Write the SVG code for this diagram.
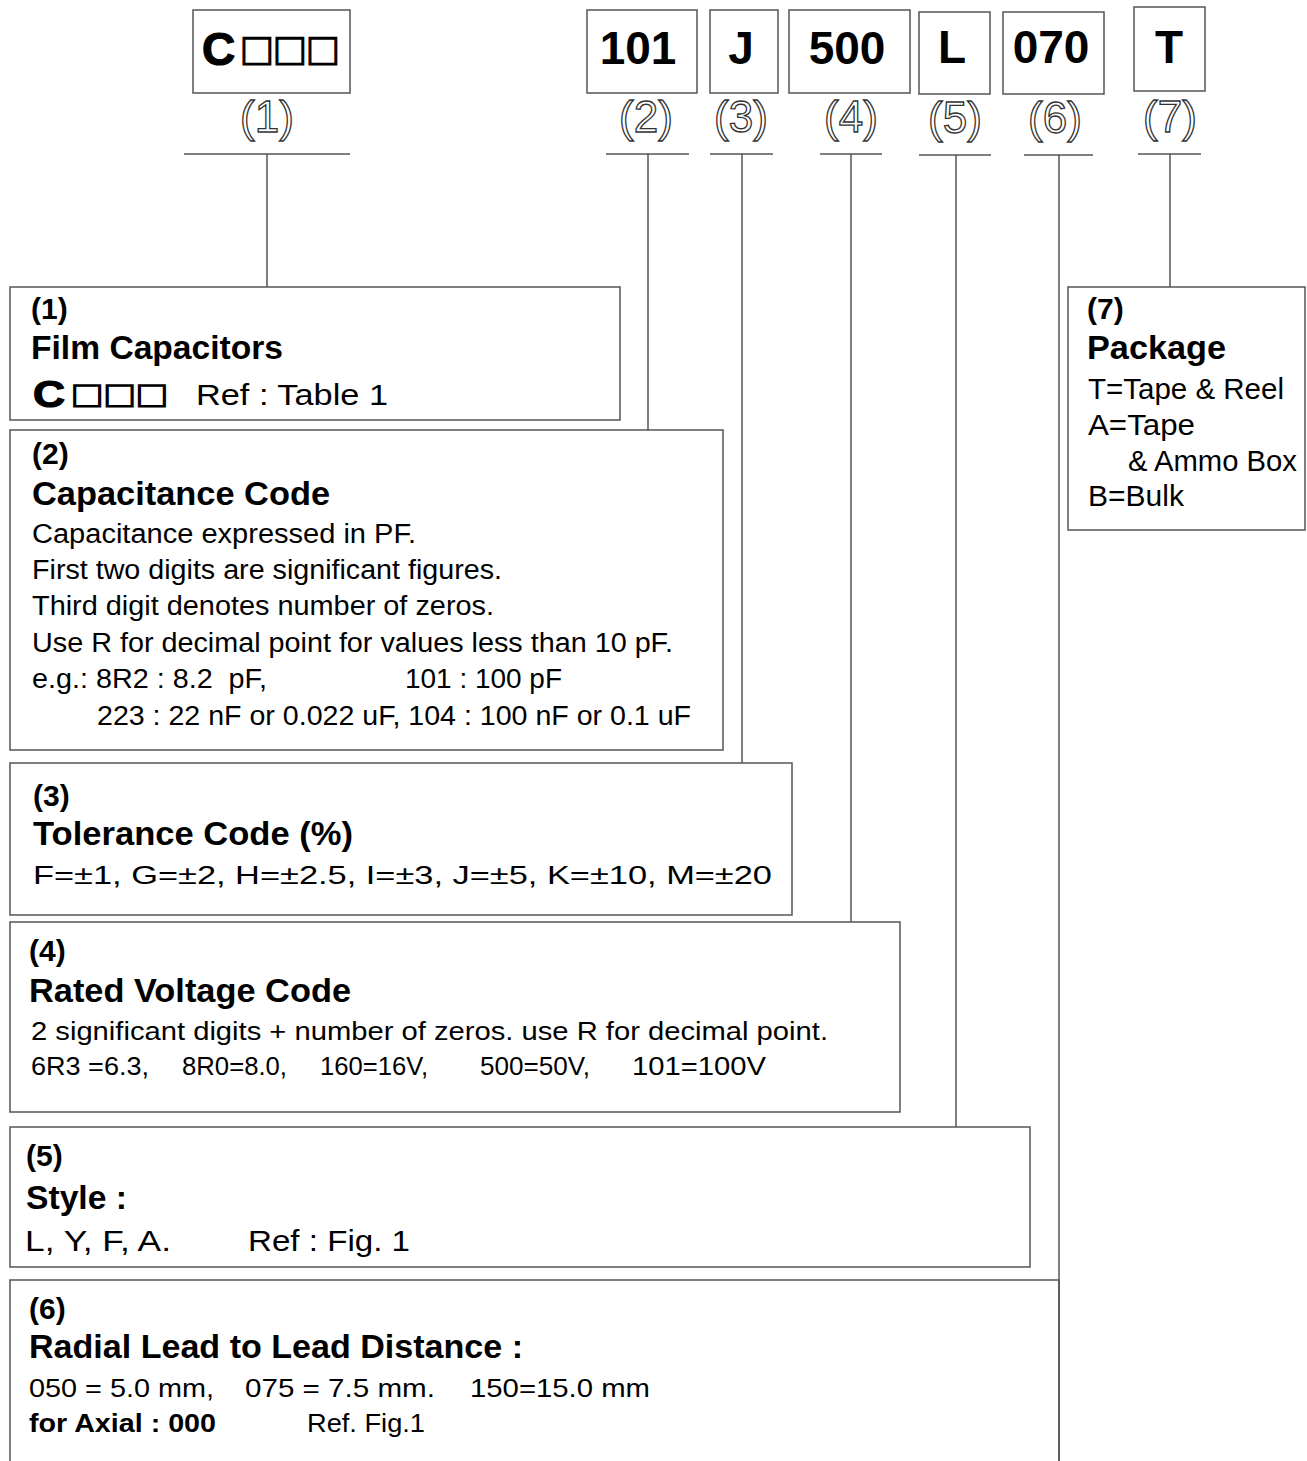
<svg xmlns="http://www.w3.org/2000/svg" width="1307" height="1461" viewBox="0 0 1307 1461">
<style>
.box{fill:none;stroke:#555;stroke-width:1.5}
.conn{fill:none;stroke:#555;stroke-width:1.5}
.hdr{font-family:"Liberation Sans",Arial,sans-serif;font-weight:bold;font-size:46px;fill:#000;text-anchor:middle}
.sq{font-family:"Liberation Sans",Arial,sans-serif;font-weight:bold;fill:#000;stroke:#000;stroke-width:1.2}
.num{font-family:"Liberation Sans",Arial,sans-serif;font-size:44px;fill:#fff;stroke:#333;stroke-width:1.3;text-anchor:middle}
.h{font-family:"Liberation Sans",Arial,sans-serif;font-weight:bold;font-size:30px;fill:#000}
.t{font-family:"Liberation Sans",Arial,sans-serif;font-weight:bold;font-size:33px;fill:#000}
.b{font-family:"Liberation Sans",Arial,sans-serif;font-size:27px;fill:#000}
.b3{font-family:"Liberation Sans",Arial,sans-serif;font-size:26px;fill:#000}
.b4{font-family:"Liberation Sans",Arial,sans-serif;font-size:25px;fill:#000}
.bb{font-family:"Liberation Sans",Arial,sans-serif;font-weight:bold;font-size:25px;fill:#000}
.r{font-family:"Liberation Sans",Arial,sans-serif;font-size:29px;fill:#000}
</style>
<rect x="0" y="0" width="1307" height="1461" fill="#fff"/>

<g id="connectors">
  <path class="conn" d="M184,154 H350 M267,154 V287"/>
  <path class="conn" d="M606,154 H689 M648,154 V430"/>
  <path class="conn" d="M710,154 H773 M742,154 V763"/>
  <path class="conn" d="M820,154 H882 M851,154 V922"/>
  <path class="conn" d="M919,155 H991 M956,155 V1127"/>
  <path class="conn" d="M1024,155 H1093 M1059,155 V1461"/>
  <path class="conn" d="M1138,154 H1201 M1170,154 V287"/>
</g>

<g id="code-1">
  <rect class="box" x="193" y="10" width="157" height="83"/>
  <text class="sq" y="65" font-size="46"><tspan x="202">C</tspan><tspan x="243">□</tspan><tspan x="276">□</tspan><tspan x="309">□</tspan></text>
  <text class="num" x="267" y="132">(1)</text>
</g>
<g id="code-2">
  <rect class="box" x="587" y="10" width="110" height="83"/>
  <text class="hdr" x="638" y="64">101</text>
  <text class="num" x="646" y="132">(2)</text>
</g>
<g id="code-3">
  <rect class="box" x="710" y="10" width="68" height="83"/>
  <text class="hdr" x="741" y="64">J</text>
  <text class="num" x="741" y="132">(3)</text>
</g>
<g id="code-4">
  <rect class="box" x="789" y="10" width="121" height="83"/>
  <text class="hdr" x="847" y="64">500</text>
  <text class="num" x="851" y="132">(4)</text>
</g>
<g id="code-5">
  <rect class="box" x="919" y="12" width="71" height="82"/>
  <text class="hdr" x="952" y="63">L</text>
  <text class="num" x="955" y="133">(5)</text>
</g>
<g id="code-6">
  <rect class="box" x="1003" y="12" width="101" height="82"/>
  <text class="hdr" x="1051" y="63">070</text>
  <text class="num" x="1055" y="133">(6)</text>
</g>
<g id="code-7">
  <rect class="box" x="1134" y="7" width="71" height="84"/>
  <text class="hdr" x="1169" y="63">T</text>
  <text class="num" x="1170" y="132">(7)</text>
</g>

<g id="desc-1">
  <rect class="box" x="10" y="287" width="610" height="133"/>
  <text class="h" x="31" y="319">(1)</text>
  <text class="t" x="31" y="359" textLength="252" lengthAdjust="spacingAndGlyphs">Film Capacitors</text>
  <text class="sq" transform="matrix(1.2,0,0,1,33,407)" font-size="37" stroke-width="0.8"><tspan x="0">C</tspan><tspan x="34">□</tspan><tspan x="61">□</tspan><tspan x="88">□</tspan></text>
  <text class="r" x="196" y="405" font-size="30" textLength="192" lengthAdjust="spacingAndGlyphs">Ref : Table 1</text>
</g>

<g id="desc-2">
  <rect class="box" x="10" y="430" width="713" height="320"/>
  <text class="h" x="32" y="464">(2)</text>
  <text class="t" x="32" y="505" textLength="298" lengthAdjust="spacingAndGlyphs">Capacitance Code</text>
  <text class="b" x="32" y="543" textLength="384" lengthAdjust="spacingAndGlyphs">Capacitance expressed in PF.</text>
  <text class="b" x="32" y="579" textLength="470" lengthAdjust="spacingAndGlyphs">First two digits are significant figures.</text>
  <text class="b" x="32" y="615" textLength="462" lengthAdjust="spacingAndGlyphs">Third digit denotes number of zeros.</text>
  <text class="b" x="32" y="652" textLength="641" lengthAdjust="spacingAndGlyphs">Use R for decimal point for values less than 10 pF.</text>
  <text class="b" x="32" y="688" xml:space="preserve" textLength="235" lengthAdjust="spacingAndGlyphs">e.g.: 8R2 : 8.2  pF,</text>
  <text class="b" x="405" y="688" textLength="157" lengthAdjust="spacingAndGlyphs">101 : 100 pF</text>
  <text class="b" x="97" y="725" textLength="594" lengthAdjust="spacingAndGlyphs">223 : 22 nF or 0.022 uF, 104 : 100 nF or 0.1 uF</text>
</g>

<g id="desc-3">
  <rect class="box" x="10" y="763" width="782" height="152"/>
  <text class="h" x="33" y="806">(3)</text>
  <text class="t" x="33" y="845" textLength="320" lengthAdjust="spacingAndGlyphs">Tolerance Code (%)</text>
  <text class="b3" x="33" y="884" textLength="739" lengthAdjust="spacingAndGlyphs">F=±1, G=±2, H=±2.5, I=±3, J=±5, K=±10, M=±20</text>
</g>

<g id="desc-4">
  <rect class="box" x="10" y="922" width="890" height="190"/>
  <text class="h" x="29" y="961">(4)</text>
  <text class="t" x="29" y="1002" textLength="322" lengthAdjust="spacingAndGlyphs">Rated Voltage Code</text>
  <text class="b4" x="31" y="1040" textLength="797" lengthAdjust="spacingAndGlyphs">2 significant digits + number of zeros. use R for decimal point.</text>
  <text class="b4" x="31" y="1075" textLength="118" lengthAdjust="spacingAndGlyphs">6R3 =6.3,</text>
  <text class="b4" x="182" y="1075" textLength="105" lengthAdjust="spacingAndGlyphs">8R0=8.0,</text>
  <text class="b4" x="320" y="1075" textLength="108" lengthAdjust="spacingAndGlyphs">160=16V,</text>
  <text class="b4" x="480" y="1075" textLength="110" lengthAdjust="spacingAndGlyphs">500=50V,</text>
  <text class="b4" x="632" y="1075" textLength="134" lengthAdjust="spacingAndGlyphs">101=100V</text>
</g>

<g id="desc-5">
  <rect class="box" x="10" y="1127" width="1020" height="140"/>
  <text class="h" x="26" y="1166">(5)</text>
  <text class="t" x="26" y="1209" textLength="101" lengthAdjust="spacingAndGlyphs">Style :</text>
  <text class="r" x="25" y="1251" font-size="30" textLength="146" lengthAdjust="spacingAndGlyphs">L, Y, F, A.</text>
  <text class="r" x="248" y="1251" font-size="30" textLength="162" lengthAdjust="spacingAndGlyphs">Ref : Fig. 1</text>
</g>

<g id="desc-6">
  <path class="box" d="M10,1461 V1280 H1059 V1461"/>
  <text class="h" x="29" y="1319">(6)</text>
  <text class="t" x="29" y="1358" textLength="494" lengthAdjust="spacingAndGlyphs">Radial Lead to Lead Distance :</text>
  <text class="b4" x="29" y="1397" textLength="185" lengthAdjust="spacingAndGlyphs">050 = 5.0 mm,</text>
  <text class="b4" x="245" y="1397" textLength="190" lengthAdjust="spacingAndGlyphs">075 = 7.5 mm.</text>
  <text class="b4" x="470" y="1397" textLength="180" lengthAdjust="spacingAndGlyphs">150=15.0 mm</text>
  <text class="bb" x="29" y="1432" textLength="187" lengthAdjust="spacingAndGlyphs">for Axial : 000</text>
  <text class="b4" x="307" y="1432" textLength="118" lengthAdjust="spacingAndGlyphs">Ref. Fig.1</text>
</g>

<g id="desc-7">
  <rect class="box" x="1068" y="287" width="237" height="243"/>
  <text class="h" x="1087" y="319">(7)</text>
  <text class="t" x="1087" y="359" textLength="139" lengthAdjust="spacingAndGlyphs">Package</text>
  <text class="r" x="1088" y="399" textLength="196" lengthAdjust="spacingAndGlyphs">T=Tape &amp; Reel</text>
  <text class="r" x="1088" y="435" textLength="107" lengthAdjust="spacingAndGlyphs">A=Tape</text>
  <text class="r" x="1128" y="471" textLength="169" lengthAdjust="spacingAndGlyphs">&amp; Ammo Box</text>
  <text class="r" x="1088" y="506" textLength="96" lengthAdjust="spacingAndGlyphs">B=Bulk</text>
</g>
</svg>
